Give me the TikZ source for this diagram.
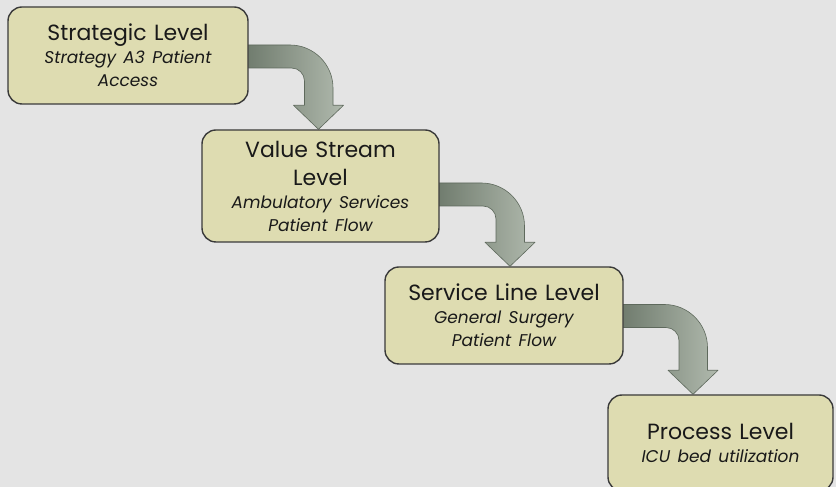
\documentclass[tikz,border=0pt]{standalone}
\usepackage{fontspec}
\setmainfont{Poppins}[ItalicFeatures={WordSpace=0.7}]
\usetikzlibrary{calc,backgrounds}

\definecolor{pagebg}{HTML}{E4E4E4}
\definecolor{boxfill}{HTML}{DEDCB1}
\definecolor{boxline}{HTML}{3A3A3A}
\definecolor{arrowdark}{HTML}{6C786A}
\definecolor{arrowlight}{HTML}{B0B9AD}
\definecolor{arrowline}{HTML}{5E695C}

\pgfdeclarelayer{bottom}
\pgfsetlayers{bottom,background,main}

\tikzset{
  levelbox/.style={draw=boxline, line width=1.4pt, fill=boxfill,
    rounded corners=14pt, inner sep=0pt, align=center,
    font=\fontsize{22}{23}\selectfont, text=black!90},
  flowarrow/.style={left color=arrowdark, right color=arrowlight,
    draw=arrowline, line width=0.6pt, line join=round},
}
\newcommand{\sub}[1]{{\fontsize{17}{23}\selectfont\itshape #1}}

% bent block arrow: horizontal shaft leaving #1, turning down onto tip #2
\newcommand{\bentflow}[2]{%
  \path[flowarrow] let \p1=(#1), \p2=(#2) in
    ({\x1-8pt},{\y1+11.5pt}) -- ({\x2-28.5pt},{\y1+11.5pt})
    .. controls ({\x2-4.8pt},{\y1+11.5pt}) and ({\x2+14.5pt},{\y1-7.8pt}) .. ({\x2+14.5pt},{\y1-31.5pt})
    -- ({\x2+14.5pt},{\y2+24pt}) -- ({\x2+25pt},{\y2+24pt}) -- (\x2,\y2)
    -- ({\x2-25pt},{\y2+24pt}) -- ({\x2-14pt},{\y2+24pt})
    -- ({\x2-14pt},{\y1-24.5pt})
    .. controls ({\x2-14pt},{\y1-17.3pt}) and ({\x2-19.8pt},{\y1-11.5pt}) .. ({\x2-27pt},{\y1-11.5pt})
    -- ({\x1-8pt},{\y1-11.5pt}) -- cycle;}

\begin{document}
\begin{tikzpicture}[x=1pt,y=1pt]
  \begin{pgfonlayer}{bottom}
    \fill[pagebg] (0,0) rectangle (836,487);
  \end{pgfonlayer}
  \useasboundingbox (0,0) rectangle (836,487);

  \node[levelbox, minimum width=240pt, minimum height=97pt, text width=230pt]
    (strategic) at (128,431.5)
    {Strategic Level\\\sub{Strategy A3 Patient}\\\sub{Access}};
  \node[levelbox, minimum width=237pt, minimum height=112pt, text width=227pt]
    (valuestream) at (320.5,301)
    {Value Stream\\[5pt]Level\\\sub{Ambulatory Services}\\\sub{Patient Flow}};
  \node[levelbox, minimum width=238pt, minimum height=97pt, text width=228pt]
    (serviceline) at (504,171.5)
    {Service Line Level\\\sub{General Surgery}\\\sub{Patient Flow}};
  \node[levelbox, minimum width=225pt, minimum height=96pt, text width=215pt]
    (process) at (720.5,44)
    {Process Level\\\sub{ICU bed utilization}};

  % where each arrow leaves one box and lands on the next
  \coordinate (out1) at ($(strategic.east)+(0,-1)$);
  \coordinate (in1)  at ($(valuestream.north)+(-2,0)$);
  \coordinate (out2) at ($(valuestream.east)+(0,-8.5)$);
  \coordinate (in2)  at ($(serviceline.north)+(6,0)$);
  \coordinate (out3) at ($(serviceline.east)+(0,-0.5)$);
  \coordinate (in3)  at ($(process.north)+(-27.5,0)$);

  \begin{pgfonlayer}{background}
    \bentflow{out1}{in1}
    \bentflow{out2}{in2}
    \bentflow{out3}{in3}
  \end{pgfonlayer}
\end{tikzpicture}
\end{document}
